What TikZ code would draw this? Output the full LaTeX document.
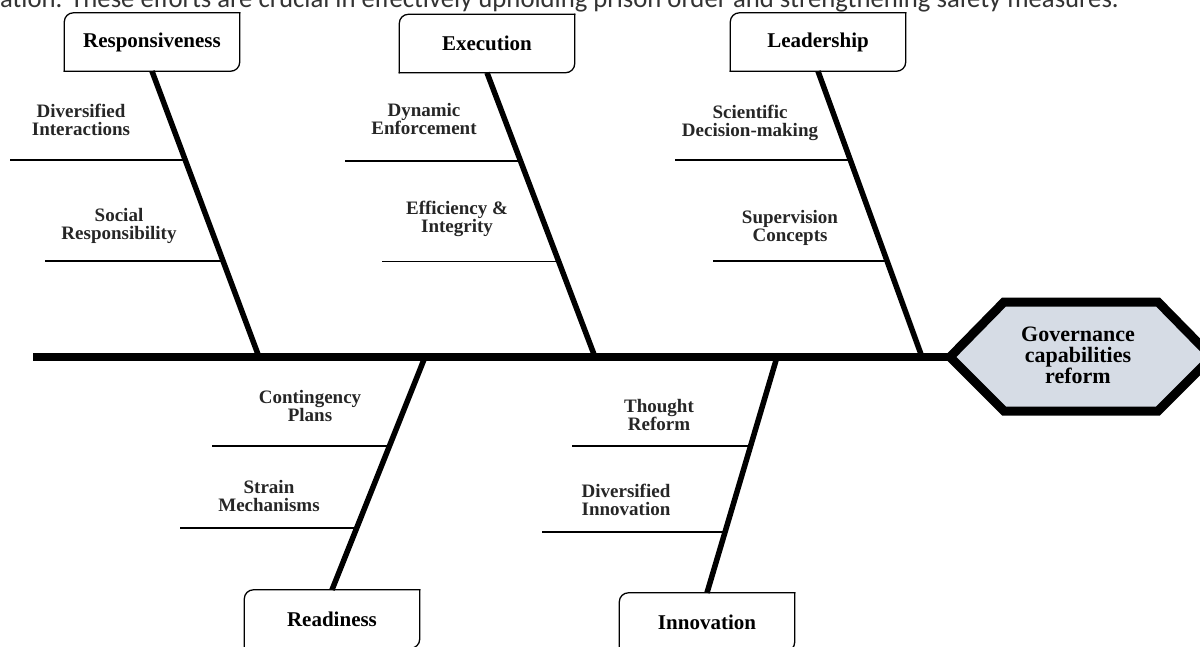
\documentclass[tikz,border=0pt]{standalone}
\usepackage{fontspec}
\setmainfont{Liberation Serif}
\newfontfamily\notefont{Carlito}
\usepackage{xcolor}
\usetikzlibrary{calc}
\definecolor{hexfill}{RGB}{214,220,229}
\tikzset{>=latex}
\tikzset{
  catbox/.style={minimum width=175pt, minimum height=58pt, inner sep=0pt,
    font=\bfseries\fontsize{21}{24}\selectfont},
  boxline/.style={line width=1.3pt, rounded corners=9pt, line cap=rect},
  causetxt/.style={align=center, inner sep=0pt, text=black!85,
    font=\bfseries\fontsize{19}{18}\selectfont},
  spine/.style={line width=8pt},
  bone/.style={line width=5.5pt},
  twig/.style={line width=1.8pt},
  hexa/.style={line width=9pt, line join=miter, fill=hexfill},
}

\begin{document}
\begin{tikzpicture}[x=1pt, y=-1pt]
\useasboundingbox (0,0) rectangle (1200,646);
\clip (0,0) rectangle (1200,646);

\node[anchor=base west, inner sep=0pt, text=black!80,
  font=\notefont\fontsize{26.7}{28}\selectfont] (note) at (0,7.5)
  {ation. These efforts are crucial in effectively upholding prison order and strengthening safety measures.};

% head
\draw[hexa] (950,357) coordinate (gov-w) -- (1004,302) -- (1158,302)
  -- (1212,357) -- (1158,411) -- (1004,411) -- cycle;
\node[align=center, inner sep=0pt, font=\bfseries\fontsize{22}{21}\selectfont]
  (gov) at (1078,355) {Governance\\capabilities\\reform};

\coordinate (spine-w) at (33,357);
\draw[spine] (spine-w) -- (gov-w);

\node[catbox] (resp) at (152,42) {Responsiveness};
\node[catbox] (exec) at (487,43.5) {Execution};
\node[catbox] (lead) at (818,42) {Leadership};
\node[catbox] (read) at (332,619) {Readiness};
\node[catbox] (innov) at (707,622) {Innovation};

\foreach \b in {resp, exec, lead, read, innov} {
  \draw[boxline] (\b.north east) -- (\b.north west) -- (\b.south west);
  \draw[boxline] (\b.south west) -- (\b.south east) -- (\b.north east);
}

% upper bones
\foreach \b/\e/\la/\lb in {resp/259/10/45, exec/595/345/382, lead/922/675/713} {
  \coordinate (\b-end) at (\e,357);
  \draw[bone] (\b.south) -- (\b-end);
  \coordinate (\b-1) at ($(\b.south)!0.311!(\b-end)$);
  \coordinate (\b-2) at ($(\b.south)!0.664!(\b-end)$);
  \coordinate (\b-a) at (\la,0);
  \coordinate (\b-b) at (\lb,0);
  \draw[twig] (\b-a |- \b-1) -- (\b-1);
  \draw[twig] (\b-b |- \b-2) -- (\b-2);
}

% lower bones
\foreach \b/\s/\la/\lb/\fa/\fb in {read/425/212/180/0.382/0.734, innov/777/572/542/0.377/0.742} {
  \coordinate (\b-start) at (\s,357);
  \draw[bone] (\b-start) -- (\b.north);
  \coordinate (\b-1) at ($(\b-start)!\fa!(\b.north)$);
  \coordinate (\b-2) at ($(\b-start)!\fb!(\b.north)$);
  \coordinate (\b-a) at (\la,0);
  \coordinate (\b-b) at (\lb,0);
  \draw[twig] (\b-a |- \b-1) -- (\b-1);
  \draw[twig] (\b-b |- \b-2) -- (\b-2);
}

\node[causetxt] (t-resp-1) at (81,120) {Diversified\\Interactions};
\node[causetxt] (t-resp-2) at (119,226) {Social\\Responsibility};
\node[causetxt] (t-exec-1) at (424,119) {Dynamic\\Enforcement};
\node[causetxt] (t-exec-2) at (457,219) {Efficiency \&\\Integrity};
\node[causetxt] (t-lead-1) at (750,123) {Scientific\\Decision-making};
\node[causetxt] (t-lead-2) at (790,228) {Supervision\\Concepts};
\node[causetxt] (t-read-1) at (310,406) {Contingency\\Plans};
\node[causetxt] (t-read-2) at (269,496) {Strain\\Mechanisms};
\node[causetxt] (t-innov-1) at (659,415) {Thought\\Reform};
\node[causetxt] (t-innov-2) at (626,500) {Diversified\\Innovation};

\end{tikzpicture}
\end{document}
